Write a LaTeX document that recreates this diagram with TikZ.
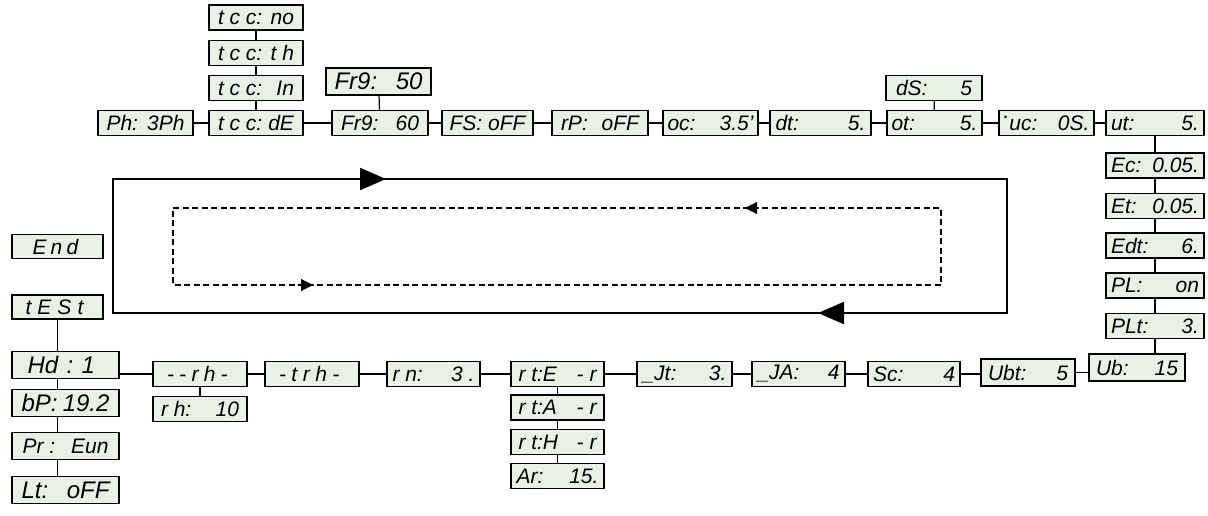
\documentclass[tikz,border=0pt]{standalone}
\usepackage{fontspec}
\setmainfont{Liberation Sans}
\usetikzlibrary{arrows.meta}
\definecolor{lcdfill}{RGB}{233,241,229}
\tikzset{
  lcd/.style={draw=black, fill=lcdfill, line width=1.5pt, inner sep=0pt,
    minimum height=25pt, font=\fontsize{21}{21}\selectfont\itshape, anchor=center},
  link/.style={line width=1.2pt},
  loopline/.style={line width=2.2pt},
  dashloop/.style={line width=1.1pt, dash pattern=on 6pt off 3.5pt},
  bigtip/.style={-{Triangle[length=26pt,width=22pt]}, line width=2.2pt},
  smalltip/.style={-{Triangle[length=12pt,width=12pt]}, line width=1.1pt}
}
\newcommand{\lw}[3]{\makebox[#1pt][s]{#2\hfill #3}}
\begin{document}
\begin{tikzpicture}[x=1pt,y=-1pt]
\useasboundingbox (0,0) rectangle (1208,516);
% top row
\node[lcd,minimum width=95pt] (ph) at (145.5,123) {\lw{78}{Ph:}{3Ph}};
\node[lcd,minimum width=94pt] (tde) at (256,123) {\lw{76}{t c c:}{dE}};
\node[lcd,minimum width=94pt] (tin) at (256,88) {\lw{76}{t c c:}{In}};
\node[lcd,minimum width=94pt] (tth) at (256,53) {\lw{76}{t c c:}{t h}};
\node[lcd,minimum width=94pt] (tno) at (256,17.5) {\lw{76}{t c c:}{no}};
\node[lcd,minimum width=96pt] (f60) at (380,123) {\lw{78}{Fr9:}{60}};
\node[lcd,minimum width=105pt,minimum height=27pt,font=\fontsize{24}{24}\selectfont\itshape] (f50) at (378.5,81.5) {\lw{88}{Fr9:}{50}};
\node[lcd,minimum width=91pt] (fs) at (487.5,123) {\lw{76}{FS:}{oFF}};
\node[lcd,minimum width=96pt] (rp) at (600,123) {\lw{78}{rP:}{oFF}};
\node[lcd,minimum width=95pt] (oc) at (710.5,123) {\lw{86}{oc:}{3.5'}};
\node[lcd,minimum width=101pt] (dt) at (820.5,123) {\lw{90}{dt:}{5.}};
\node[lcd,minimum width=95pt] (ot) at (934.5,123) {\lw{86}{ot:}{5.}};
\node[lcd,minimum width=96pt] (ds) at (934,88) {\lw{76}{dS:}{5}};
\node[lcd,minimum width=95pt] (uc) at (1046.5,123) {\lw{86}{\raisebox{1.1ex}{.}uc:}{0S.}};
\node[lcd,minimum width=98pt] (ut) at (1155,123) {\lw{88}{ut:}{5.}};
% right column
\node[lcd,minimum width=98pt] (ec) at (1155,165.5) {\lw{88}{Ec:}{0.05.}};
\node[lcd,minimum width=98pt] (et) at (1155,206) {\lw{88}{Et:}{0.05.}};
\node[lcd,minimum width=98pt] (edt) at (1155,245.5) {\lw{88}{Edt:}{6.}};
\node[lcd,minimum width=98pt] (pl) at (1155,285.5) {\lw{88}{PL:}{on}};
\node[lcd,minimum width=98pt] (plt) at (1155,326) {\lw{88}{PLt:}{3.}};
\node[lcd,minimum width=96pt,minimum height=27pt] (ub) at (1137,367.5) {\lw{82}{Ub:}{15}};
% bottom row
\node[lcd,minimum width=94pt,minimum height=27pt] (ubt) at (1028,372.5) {\lw{80}{Ubt:}{5}};
\node[lcd,minimum width=92pt] (sc) at (914,374) {\lw{82}{Sc:}{4}};
\node[lcd,minimum width=93pt] (ja) at (798.5,374) {\lw{82}{\_JA:}{4}};
\node[lcd,minimum width=95pt] (jt) at (684.5,374) {\lw{84}{\_Jt:}{3.}};
\node[lcd,minimum width=93pt] (rte) at (557.5,374) {\lw{78}{r t:E}{- r}};
\node[lcd,minimum width=93pt] (rta) at (557.5,407.5) {\lw{78}{r t:A}{- r}};
\node[lcd,minimum width=93pt] (rth) at (557.5,442) {\lw{78}{r t:H}{- r}};
\node[lcd,minimum width=93pt] (ar) at (557.5,476) {\lw{82}{Ar:}{15.}};
\node[lcd,minimum width=93pt] (rn) at (433.5,374) {\lw{82}{r n:}{3 .}};
\node[lcd,minimum width=94pt] (trh) at (312,374) {\lw{66}{-\hfill t\hfill r\hfill h\hfill -}{}};
\node[lcd,minimum width=94pt] (rh) at (200,374) {\lw{66}{-\hfill -\hfill r\hfill h\hfill -}{}};
\node[lcd,minimum width=94pt] (rh10) at (200,409) {\lw{78}{r h:}{10}};
% left column
\node[lcd,minimum width=91pt,minimum height=24pt] (end) at (57.5,246.5) {\lw{50}{E\hfill n\hfill d}{}};
\node[lcd,minimum width=91pt,minimum height=24pt] (test) at (57.5,307) {\lw{64}{t\hfill E\hfill S\hfill t}{}};
\node[lcd,minimum width=107pt,minimum height=27pt,font=\fontsize{24}{24}\selectfont\itshape] (hd) at (65.5,365) {\lw{76}{Hd\hfill :\hfill 1}{}};
\node[lcd,minimum width=107pt,minimum height=27pt,font=\fontsize{24}{24}\selectfont\itshape] (bp) at (65.5,403) {\lw{88}{bP:}{19.2}};
\node[lcd,minimum width=107pt,minimum height=27pt] (pr) at (65.5,446) {\lw{86}{Pr :}{Eun}};
\node[lcd,minimum width=107pt,minimum height=27pt,font=\fontsize{24}{24}\selectfont\itshape] (lt) at (65.5,490) {\lw{88}{Lt:}{oFF}};
% connectors top row
\draw[link] (ph) -- (tde);
\draw[link] (tde) -- (f60);
\draw[link] (f60) -- (fs);
\draw[link] (fs) -- (rp);
\draw[link] (rp) -- (oc);
\draw[link] (oc) -- (dt);
\draw[link] (dt) -- (ot);
\draw[link] (ot) -- (uc);
\draw[link] (uc) -- (ut);
\draw[link] (tno) -- (tth);
\draw[link] (tth) -- (tin);
\draw[link] (tin) -- (tde);
\draw[link] (f50) -- (f60);
\draw[link] (ds) -- (ot);
% right column
\draw[link] (ut) -- (ec);
\draw[link] (ec) -- (et);
\draw[link] (et) -- (edt);
\draw[link] (edt) -- (pl);
\draw[link] (pl) -- (plt);
\draw[link] (plt.south) -- (plt.south |- ub.north);
% bottom row
\draw[link] (ubt.east) -- (ubt.east -| ub.west);
\draw[link] (sc) -- (ubt.west |- sc.east);
\draw[link] (ja) -- (sc);
\draw[link] (jt) -- (ja);
\draw[link] (rte) -- (jt);
\draw[link] (rn) -- (rte);
\draw[link] (trh) -- (rn);
\draw[link] (rh) -- (trh);
\draw[link] (rh.west) -- (rh.west -| hd.east);
\draw[link] (rh) -- (rh10);
\draw[link] (rte) -- (rta);
\draw[link] (rta) -- (rth);
\draw[link] (rth) -- (ar);
% left column
\draw[link] (test.south) -- (test.south |- hd.north);
\draw[link] (test.south |- hd.south) -- (test.south |- bp.north);
\draw[link] (test.south |- bp.south) -- (test.south |- pr.north);
\draw[link] (test.south |- pr.south) -- (test.south |- lt.north);
% loops
\coordinate (o1) at (113,179);
\coordinate (o2) at (1007,179);
\coordinate (o3) at (1007,313);
\coordinate (o4) at (113,313);
\draw[loopline, line join=miter] (o1) -- (o2) -- (o3) -- (o4) -- cycle;
\coordinate (ta) at (386,179);
\coordinate (ba) at (818,313);
\draw[bigtip] (o1) -- (ta);
\draw[bigtip] (o3) -- (ba);
\coordinate (d1) at (173,208);
\coordinate (d2) at (941,208);
\coordinate (d3) at (941,285);
\coordinate (d4) at (173,285);
\draw[dashloop] (d1) -- (d2) -- (d3) -- (d4) -- cycle;
\coordinate (dta) at (745,208);
\coordinate (dba) at (313,285);
\draw[smalltip, dash pattern=on 0pt off 1000pt] (d2) -- (dta);
\draw[smalltip, dash pattern=on 0pt off 1000pt] (d4) -- (dba);
\end{tikzpicture}
\end{document}
